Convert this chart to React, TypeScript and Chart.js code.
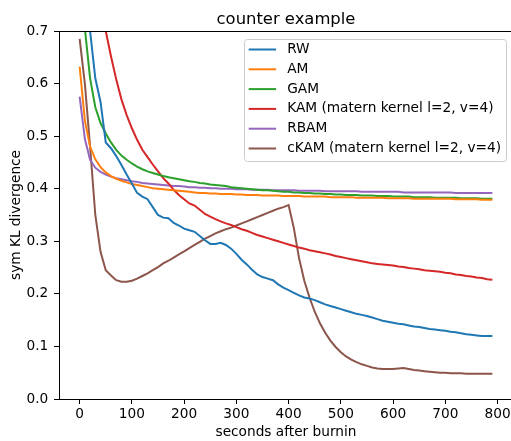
import React, { useEffect, useRef } from "react";
import { Chart, registerables } from "chart.js";

Chart.register(...registerables);

const FONT = "DejaVu Sans";
const FS = 13.7;
const TITLE_FS = 16.4;
const TITLE = "counter example";

const seconds = [
  0, 10, 20, 30, 40, 50, 60, 70, 80, 90,
  100, 110, 120, 130, 140, 150, 160, 170, 180, 190,
  200, 210, 220, 230, 240, 250, 260, 270, 280, 290,
  300, 310, 320, 330, 340, 350, 360, 370, 380, 390,
  400, 410, 420, 430, 440, 450, 460, 470, 480, 490,
  500, 510, 520, 530, 540, 550, 560, 570, 580, 590,
  600, 610, 620, 630, 640, 650, 660, 670, 680, 690,
  700, 710, 720, 730, 740, 750, 760, 770, 780, 790,
];

const rw = [
  0.95, 0.82, 0.70, 0.61, 0.565, 0.488, 0.477, 0.462, 0.445, 0.427,
  0.41, 0.392, 0.385, 0.38, 0.365, 0.35, 0.345, 0.344, 0.335, 0.33,
  0.324, 0.321, 0.318, 0.31, 0.302, 0.295, 0.295, 0.297, 0.293, 0.286,
  0.276, 0.265, 0.256, 0.246, 0.237, 0.232, 0.229, 0.226, 0.218, 0.212,
  0.207, 0.202, 0.197, 0.193, 0.191, 0.188, 0.184, 0.18, 0.177, 0.174,
  0.171, 0.168, 0.165, 0.162, 0.16, 0.158, 0.155, 0.152, 0.149, 0.147,
  0.145, 0.143, 0.142, 0.14, 0.138, 0.137, 0.135, 0.133, 0.132, 0.131,
  0.13, 0.128, 0.127, 0.125, 0.123, 0.122, 0.121, 0.12, 0.12, 0.12,
];

const am = [
  0.632, 0.53, 0.48, 0.456, 0.441, 0.431, 0.424, 0.419, 0.415, 0.412,
  0.409, 0.407, 0.405, 0.403, 0.401, 0.4, 0.399, 0.398, 0.397, 0.396,
  0.395, 0.394, 0.393, 0.392, 0.392, 0.391, 0.391, 0.39, 0.39, 0.39,
  0.389, 0.389, 0.388, 0.388, 0.388, 0.387, 0.387, 0.387, 0.387, 0.386,
  0.386, 0.386, 0.386, 0.385, 0.385, 0.385, 0.385, 0.385, 0.384, 0.384,
  0.384, 0.384, 0.384, 0.383, 0.383, 0.383, 0.383, 0.383, 0.383, 0.382,
  0.382, 0.382, 0.382, 0.382, 0.381, 0.381, 0.381, 0.381, 0.381, 0.381,
  0.381, 0.381, 0.38, 0.38, 0.38, 0.38, 0.38, 0.379, 0.379, 0.379,
];

const gam = [
  0.9, 0.705, 0.61, 0.555, 0.525, 0.505, 0.488, 0.474, 0.463, 0.455,
  0.448, 0.442, 0.437, 0.433, 0.43, 0.427, 0.424, 0.422, 0.42, 0.418,
  0.416, 0.414, 0.413, 0.411, 0.41, 0.408, 0.407, 0.406, 0.405, 0.403,
  0.402, 0.401, 0.4, 0.399, 0.398, 0.397, 0.397, 0.396, 0.395, 0.394,
  0.394, 0.393, 0.393, 0.392, 0.392, 0.391, 0.391, 0.39, 0.39, 0.389,
  0.389, 0.388, 0.388, 0.388, 0.387, 0.387, 0.387, 0.386, 0.386, 0.386,
  0.385, 0.385, 0.385, 0.385, 0.384, 0.384, 0.384, 0.384, 0.383, 0.383,
  0.383, 0.383, 0.383, 0.382, 0.382, 0.382, 0.382, 0.381, 0.381, 0.381,
];

const kam = [
  1.25, 1.1, 0.97, 0.86, 0.77, 0.7, 0.652, 0.608, 0.57, 0.54,
  0.515, 0.493, 0.474, 0.46, 0.446, 0.433, 0.42, 0.41, 0.398, 0.388,
  0.38, 0.372, 0.368, 0.36, 0.352, 0.347, 0.342, 0.338, 0.334, 0.331,
  0.327, 0.323, 0.32, 0.316, 0.312, 0.309, 0.306, 0.303, 0.3, 0.297,
  0.294, 0.291, 0.288, 0.286, 0.283, 0.281, 0.279, 0.277, 0.275, 0.272,
  0.27, 0.268, 0.266, 0.264, 0.262, 0.26, 0.258, 0.257, 0.256, 0.255,
  0.254, 0.252, 0.251, 0.249, 0.248, 0.247, 0.245, 0.244, 0.243, 0.242,
  0.24, 0.239, 0.237, 0.236, 0.234, 0.233, 0.231, 0.23, 0.228, 0.227,
];

const rbam = [
  0.575, 0.495, 0.455, 0.44, 0.432, 0.427, 0.423, 0.42, 0.418, 0.416,
  0.414, 0.413, 0.411, 0.41, 0.409, 0.408, 0.407, 0.406, 0.405, 0.405,
  0.404, 0.403, 0.403, 0.402, 0.402, 0.401, 0.401, 0.4, 0.4, 0.4,
  0.399, 0.399, 0.399, 0.398, 0.398, 0.398, 0.398, 0.397, 0.397, 0.397,
  0.397, 0.397, 0.396, 0.396, 0.396, 0.396, 0.396, 0.395, 0.395, 0.395,
  0.395, 0.395, 0.395, 0.395, 0.394, 0.394, 0.394, 0.394, 0.394, 0.394,
  0.394, 0.394, 0.393, 0.393, 0.393, 0.393, 0.393, 0.393, 0.393, 0.393,
  0.393, 0.393, 0.392, 0.392, 0.392, 0.392, 0.392, 0.392, 0.392, 0.392,
];

const ckam = [
  0.685, 0.6, 0.48, 0.35, 0.28, 0.245, 0.235, 0.226, 0.223, 0.223,
  0.225, 0.229, 0.234, 0.239, 0.245, 0.251, 0.258, 0.263, 0.269, 0.275,
  0.281, 0.287, 0.293, 0.299, 0.305, 0.31, 0.315, 0.319, 0.323, 0.326,
  0.33, 0.334, 0.338, 0.342, 0.346, 0.35, 0.354, 0.358, 0.362, 0.365,
  0.369, 0.325, 0.268, 0.225, 0.193, 0.166, 0.144, 0.126, 0.111, 0.099,
  0.089, 0.081, 0.075, 0.07, 0.066, 0.063, 0.06, 0.058, 0.057, 0.057,
  0.057, 0.058, 0.059, 0.057, 0.055, 0.054, 0.053, 0.052, 0.051, 0.05,
  0.05, 0.049, 0.049, 0.049, 0.048, 0.048, 0.048, 0.048, 0.048, 0.048,
];

const seriesLabels = [
  "RW",
  "AM",
  "GAM",
  "KAM (matern kernel l=2, v=4)",
  "RBAM",
  "cKAM (matern kernel l=2, v=4)",
];
const seriesValues = [rw, am, gam, kam, rbam, ckam];
const seriesColors = ["#1f77b4", "#ff7f0e", "#2ca02c", "#d62728", "#9467bd", "#8c564b"];

const xTickValues = [0, 100, 200, 300, 400, 500, 600, 700, 800];
const yTickValues = [0, 0.1, 0.2, 0.3, 0.4, 0.5, 0.6, 0.7];

const framePlugin = {
  id: "frame",
  afterDraw(chart: any) {
    const { ctx, chartArea } = chart;
    ctx.save();
    ctx.strokeStyle = "#000";
    ctx.lineWidth = 1;
    ctx.beginPath();
    ctx.moveTo(Math.round(chartArea.left) + 0.5, Math.round(chartArea.top) + 0.5);
    ctx.lineTo(Math.round(chartArea.right) + 0.5, Math.round(chartArea.top) + 0.5);
    ctx.lineTo(Math.round(chartArea.right) + 0.5, Math.round(chartArea.bottom) + 0.5);
    ctx.stroke();
    // axes title, centred over the plot area like matplotlib
    ctx.fillStyle = "#000";
    ctx.font = `${TITLE_FS}px "${FONT}"`;
    ctx.textAlign = "center";
    ctx.textBaseline = "alphabetic";
    ctx.fillText(TITLE, (chartArea.left + chartArea.right) / 2, chartArea.top - 7);
    ctx.restore();
  },
};

const legendPlugin = {
  id: "mplLegend",
  afterDraw(chart: any) {
    const { ctx, chartArea } = chart;
    const ds = chart.data.datasets;
    ctx.save();
    ctx.font = `${FS}px "${FONT}"`;
    let maxW = 0;
    ds.forEach((d: any) => {
      maxW = Math.max(maxW, ctx.measureText(d.label).width);
    });
    const rowH = 19.8;
    const w = 43 + maxW + 5;
    const h = 122;
    const right = chartArea.right - 7;
    const left = right - w;
    const top = chartArea.top + 8;
    ctx.beginPath();
    (ctx as any).roundRect(Math.round(left) + 0.5, Math.round(top) + 0.5, Math.round(w), h, 3);
    ctx.fillStyle = "rgba(255,255,255,0.8)";
    ctx.fill();
    ctx.strokeStyle = "#cccccc";
    ctx.lineWidth = 1;
    ctx.stroke();
    ds.forEach((d: any, i: number) => {
      const y = top + 10.5 + i * rowH;
      ctx.beginPath();
      ctx.strokeStyle = d.borderColor;
      ctx.lineWidth = 2;
      ctx.moveTo(left + 4.5, y);
      ctx.lineTo(left + 32, y);
      ctx.stroke();
      ctx.fillStyle = "#000";
      ctx.textBaseline = "middle";
      ctx.textAlign = "left";
      ctx.fillText(d.label, left + 43, y);
    });
    ctx.restore();
  },
};

export default function App() {
  const canvasRef = useRef<HTMLCanvasElement | null>(null);

  useEffect(() => {
    const canvas = canvasRef.current;
    if (!canvas) return;
    const chart = new Chart(canvas, {
      type: "line",
      data: {
        datasets: seriesValues.map((vals, k) => ({
          label: seriesLabels[k],
          data: seconds.map((x, i) => ({ x, y: vals[i] })),
          borderColor: seriesColors[k],
          backgroundColor: seriesColors[k],
          borderWidth: 2,
          pointRadius: 0,
          fill: false,
          tension: 0,
        })),
      },
      options: {
        animation: false,
        responsive: false,
        devicePixelRatio: 1,
        layout: { padding: { top: 31, right: 7, bottom: 0, left: 0 } },
        plugins: {
          legend: { display: false },
          tooltip: { enabled: false },
          title: { display: false },
        },
        scales: {
          x: {
            type: "linear",
            min: -39.5,
            max: 829.5,
            afterBuildTicks: (s: any) => {
              s.ticks = xTickValues.map((v) => ({ value: v }));
            },
            afterFit: (s: any) => {
              s.height = 42;
            },
            grid: { drawOnChartArea: false, drawTicks: true, tickLength: 5, color: "#000", lineWidth: 1 },
            border: { display: true, color: "#000", width: 1 },
            ticks: {
              color: "#000",
              font: { family: FONT, size: FS },
              padding: 2.4,
              maxRotation: 0,
              autoSkip: false,
              callback: (v: any) => String(v),
            },
            title: {
              display: true,
              text: "seconds after burnin",
              color: "#000",
              font: { family: FONT, size: FS },
              padding: { top: 0, bottom: 0 },
            },
          },
          y: {
            type: "linear",
            min: 0,
            max: 0.7,
            afterBuildTicks: (s: any) => {
              s.ticks = yTickValues.map((v) => ({ value: v }));
            },
            afterFit: (s: any) => {
              s.width = 59;
            },
            grid: { drawOnChartArea: false, drawTicks: true, tickLength: 5, color: "#000", lineWidth: 1 },
            border: { display: true, color: "#000", width: 1 },
            ticks: {
              color: "#000",
              font: { family: FONT, size: FS },
              padding: 5.7,
              callback: (v: any) => Number(v).toFixed(1),
            },
            title: {
              display: true,
              text: "sym KL divergence",
              color: "#000",
              font: { family: FONT, size: FS },
              padding: { top: 7.8, bottom: 0 },
            },
          },
        },
      } as any,
      plugins: [framePlugin, legendPlugin],
    });
    return () => chart.destroy();
  }, []);

  return (
    <div
      style={{
        position: "fixed",
        left: 0,
        top: 0,
        width: 511,
        height: 441,
        overflow: "hidden",
        background: "#fff",
      }}
    >
      <canvas ref={canvasRef} width={520} height={441} style={{ display: "block" }} />
    </div>
  );
}
